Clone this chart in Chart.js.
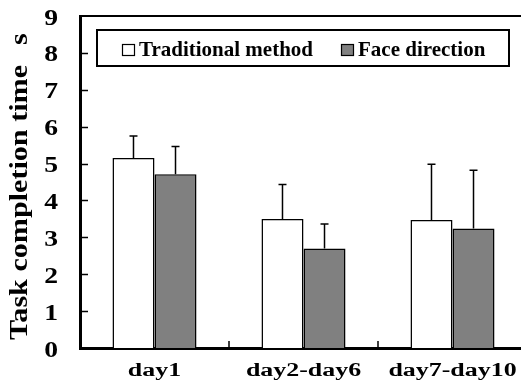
<!DOCTYPE html>
<html>
<head>
<meta charset="utf-8">
<script src="https://cdn.jsdelivr.net/npm/chart.js@4/dist/chart.umd.min.js"></script>
<style>
    html, body { margin: 0; padding: 0; background: #fff; overflow: hidden; width: 521px; height: 390px; }
    #chart { display: block; }
</style>
</head>
<body>
<canvas id="chart" width="540" height="390"></canvas>
<script>
var categories = ["day1", "day2-day6", "day7-day10"];
var seriesNames = ["Traditional method", "Face direction"];
var traditional = [5.15, 3.50, 3.47];
var traditionalErr = [0.60, 0.93, 1.51];
var face = [4.71, 2.70, 3.24];
var faceErr = [0.75, 0.66, 1.58];
var yTicks = [0, 1, 2, 3, 4, 5, 6, 7, 8, 9];
var yTitle = "Task completion time";
var yUnit = "s";

var serif = "'Liberation Serif', 'Times New Roman', Times, serif";

// draws a string squeezed/stretched horizontally
function stretchText(ctx, text, x, y, sx, align) {
    ctx.save();
    ctx.translate(x, y);
    ctx.scale(sx, 1);
    ctx.textAlign = align;
    ctx.fillText(text, 0, 0);
    ctx.restore();
}

var errorBars = {
    id: 'errorBars',
    afterDatasetsDraw: function (chart) {
        var ctx = chart.ctx;
        var y = chart.scales.y;
        ctx.save();
        ctx.strokeStyle = '#000';
        ctx.lineWidth = 1.5;
        chart.data.datasets.forEach(function (ds, i) {
            chart.getDatasetMeta(i).data.forEach(function (bar, j) {
                var top = y.getPixelForValue(ds.data[j] + ds.errors[j]);
                ctx.beginPath();
                ctx.moveTo(bar.x, bar.y);
                ctx.lineTo(bar.x, top);
                ctx.moveTo(bar.x - 4, top);
                ctx.lineTo(bar.x + 4, top);
                ctx.stroke();
            });
        });
        ctx.restore();
    }
};

var frame = {
    id: 'frame',
    afterDraw: function (chart) {
        var ctx = chart.ctx;
        var area = chart.chartArea;
        var x = chart.scales.x;
        var y = chart.scales.y;
        ctx.save();
        ctx.strokeStyle = '#000';
        ctx.fillStyle = '#000';

        // top border
        ctx.lineWidth = 2;
        ctx.beginPath();
        ctx.moveTo(area.left, area.top);
        ctx.lineTo(area.right + 5, area.top);
        ctx.stroke();

        // inward ticks
        ctx.lineWidth = 1.5;
        ctx.beginPath();
        yTicks.forEach(function (v) {
            if (v === 0 || v === 9) return;
            var py = Math.round(y.getPixelForValue(v)) + 0.5;
            ctx.moveTo(area.left, py);
            ctx.lineTo(area.left + 8, py);
        });
        for (var i = 0; i < categories.length - 1; i++) {
            var bx = (x.getPixelForTick(i) + x.getPixelForTick(i + 1)) / 2;
            ctx.moveTo(bx, area.bottom);
            ctx.lineTo(bx, area.bottom - 7);
        }
        ctx.stroke();

        // tick labels
        ctx.font = "bold 24px " + serif;
        ctx.textBaseline = 'alphabetic';
        yTicks.forEach(function (v) {
            stretchText(ctx, String(v), 58, y.getPixelForValue(v) + 8.5, 1.15, 'right');
        });
        ctx.font = "bold 18px " + serif;
        categories.forEach(function (c, i) {
            stretchText(ctx, c, x.getPixelForTick(i), 376, 1.44, 'center');
        });

        // y title, rotated
        ctx.font = "bold 26px " + serif;
        ctx.save();
        ctx.translate(27, 340);
        ctx.rotate(-Math.PI / 2);
        var w = ctx.measureText(yTitle).width;
        stretchText(ctx, yTitle, 0, 0, 275 / w, 'left');
        stretchText(ctx, yUnit, 295, 0, 1.15, 'left');
        ctx.restore();

        // legend box
        ctx.lineWidth = 2;
        ctx.strokeRect(97, 30, 412, 36);
        var legendX = [122, 341];
        ctx.font = "bold 21px " + serif;
        chart.data.datasets.forEach(function (ds, i) {
            ctx.fillStyle = ds.backgroundColor;
            ctx.fillRect(legendX[i], 44, 12, 11);
            ctx.lineWidth = 1.2;
            ctx.strokeRect(legendX[i] + 0.5, 44.5, 12, 11);
            ctx.fillStyle = '#000';
            ctx.textAlign = 'left';
            ctx.fillText(ds.label, legendX[i] + 17, 56);
        });
        ctx.restore();
    }
};

function draw() {
    new Chart(document.getElementById('chart'), {
        type: 'bar',
        data: {
            labels: categories,
            datasets: [{
                label: seriesNames[0],
                data: traditional,
                errors: traditionalErr,
                backgroundColor: '#ffffff',
                borderColor: '#000',
                borderWidth: 1.5
            }, {
                label: seriesNames[1],
                data: face,
                errors: faceErr,
                backgroundColor: '#808080',
                borderColor: '#000',
                borderWidth: 1.5
            }]
        },
        options: {
            responsive: false,
            animation: false,
            layout: { padding: { left: 0, top: 16, right: 13, bottom: 0 } },
            datasets: { bar: { categoryPercentage: 0.564, barPercentage: 1.0 } },
            plugins: {
                legend: { display: false },
                tooltip: { enabled: false }
            },
            scales: {
                x: {
                    grid: { display: false, drawTicks: false },
                    border: { display: true, color: '#000', width: 3 },
                    ticks: { display: false },
                    afterFit: function (s) { s.height = 42; }
                },
                y: {
                    min: 0,
                    max: 9,
                    grid: { display: false, drawTicks: false },
                    border: { display: true, color: '#000', width: 3 },
                    ticks: { display: false, stepSize: 1 },
                    afterFit: function (s) { s.width = 80; }
                }
            }
        },
        plugins: [errorBars, frame]
    });
}

document.fonts.load("bold 20px 'Liberation Serif'").then(draw, draw);
</script>
</body>
</html>
